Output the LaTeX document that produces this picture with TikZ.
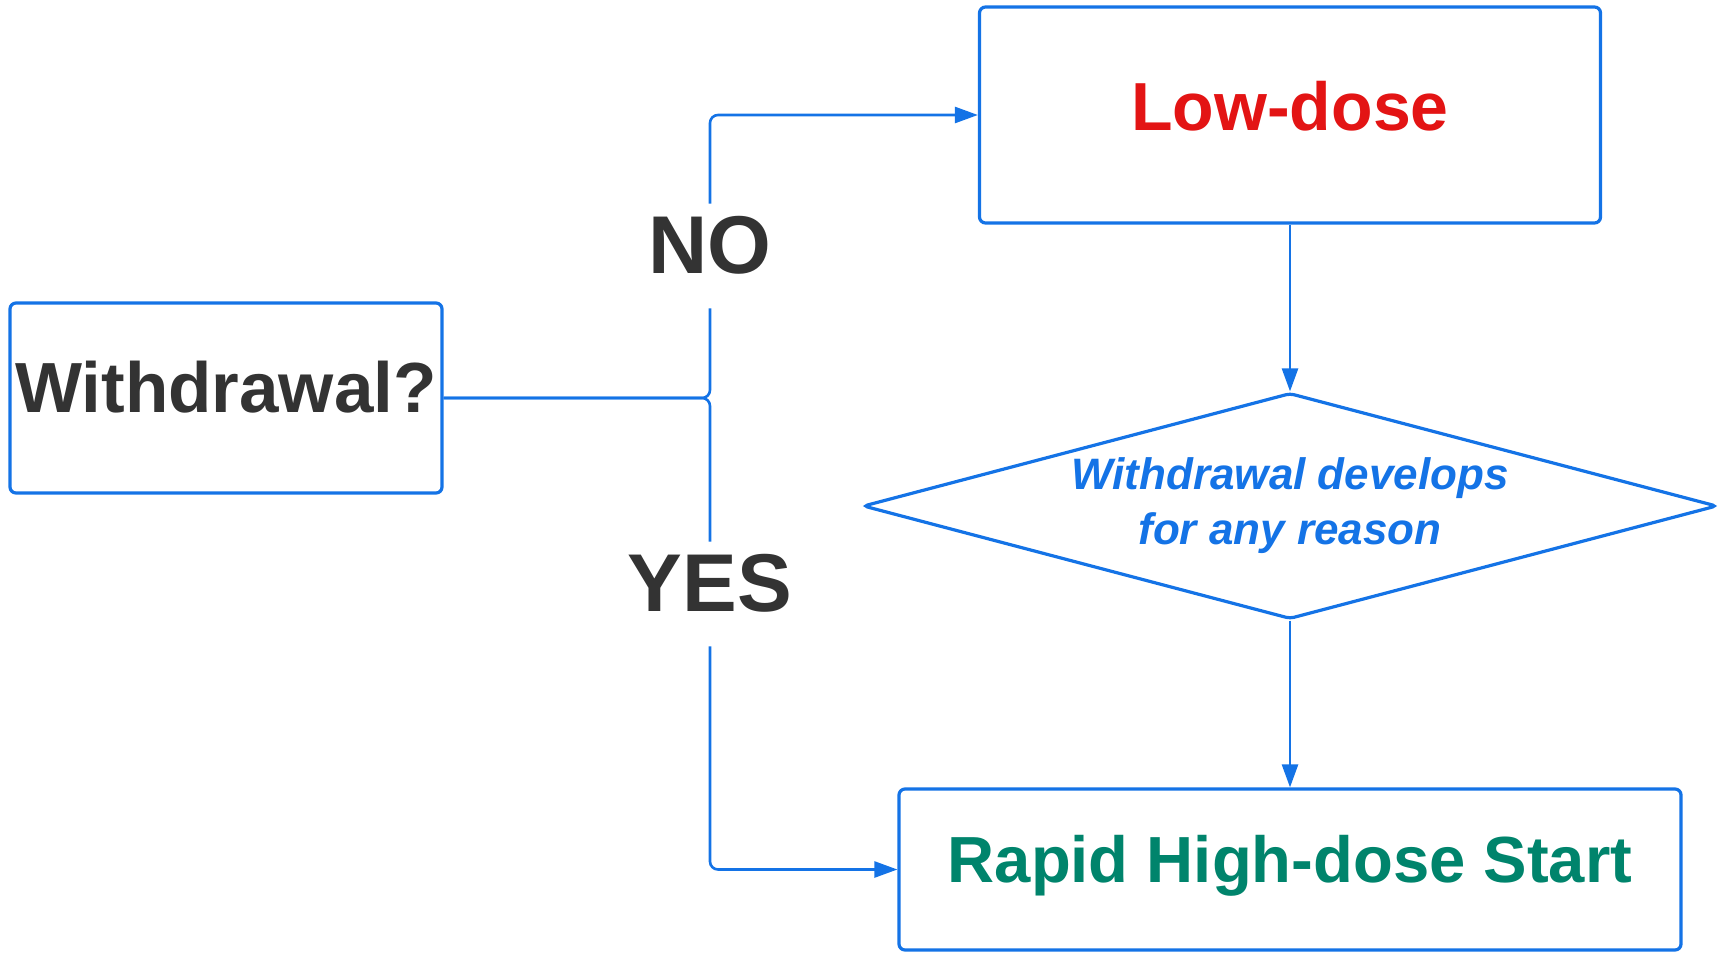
\documentclass[tikz,border=0pt]{standalone}
\usepackage{fontspec}
\setmainfont{Liberation Sans}
\usepackage{tikz}
\usetikzlibrary{shapes.geometric,arrows.meta}
\definecolor{lineblue}{HTML}{1473E6}
\definecolor{darktext}{HTML}{333333}
\definecolor{dosered}{HTML}{E31414}
\definecolor{dosegreen}{HTML}{00846C}
\tikzstyle{box}      = [rectangle, rounded corners=3pt, draw=lineblue, line width=1.6pt, fill=white, inner sep=0pt]
\tikzstyle{decision} = [diamond, shape aspect=3.78, draw=lineblue, line width=1.6pt, rounded corners=2pt, inner sep=0pt, minimum width=427pt, minimum height=113pt, align=center, text=lineblue, font=\bfseries\itshape\fontsize{22}{27.5}\selectfont]
\tikzstyle{answer}   = [inner sep=0pt, anchor=base, text height=34.5pt, text depth=17.5pt, text=darktext, font=\bfseries\fontsize{41}{45}\selectfont]
\tikzstyle{link}     = [lineblue, line width=1.3pt, rounded corners=4pt]
\tikzstyle{arrow}    = [link, -{Triangle[length=11.5pt,width=8pt]}]

\begin{document}
\begin{tikzpicture}[x=0.5pt,y=-0.5pt]
    \useasboundingbox (0,0) rectangle (1723,953);

    % boxes
    \node[box, minimum width=216pt, minimum height=95pt, text depth=11pt, text=darktext, font=\bfseries\fontsize{35.5}{40}\selectfont] (withdrawal) at (226,398) {Withdrawal?};
    \node[box, minimum width=310.5pt, minimum height=108pt, text depth=9.5pt, text=dosered, font=\bfseries\fontsize{34}{38}\selectfont] (lowdose) at (1290,115) {Low-dose};
    \node[decision] (develops) at (1290,506) {Withdrawal develops\\for any reason};
    \node[box, minimum width=391pt, minimum height=80.5pt, text depth=10.4pt, text=dosegreen, font=\bfseries\fontsize{32.6}{36}\selectfont] (rapid) at (1290,869.5) {Rapid High-dose Start};

    % answers
    \coordinate (split) at (710,398);
    \node[answer] (no) at (710,273) {NO};
    \node[answer] (yes) at (710,611) {YES};

    % connectors
    \draw[link] (withdrawal.east) -- (split) -- (no.south);
    \draw[link] (withdrawal.east) -- (split) -- (yes.north);
    \draw[arrow] (no.north) |- (lowdose.west);
    \draw[arrow] (yes.south) |- (rapid.west);
    \draw[arrow] (lowdose.south) -- (develops.north);
    \draw[arrow] (develops.south) -- (rapid.north);
\end{tikzpicture}
\end{document}
